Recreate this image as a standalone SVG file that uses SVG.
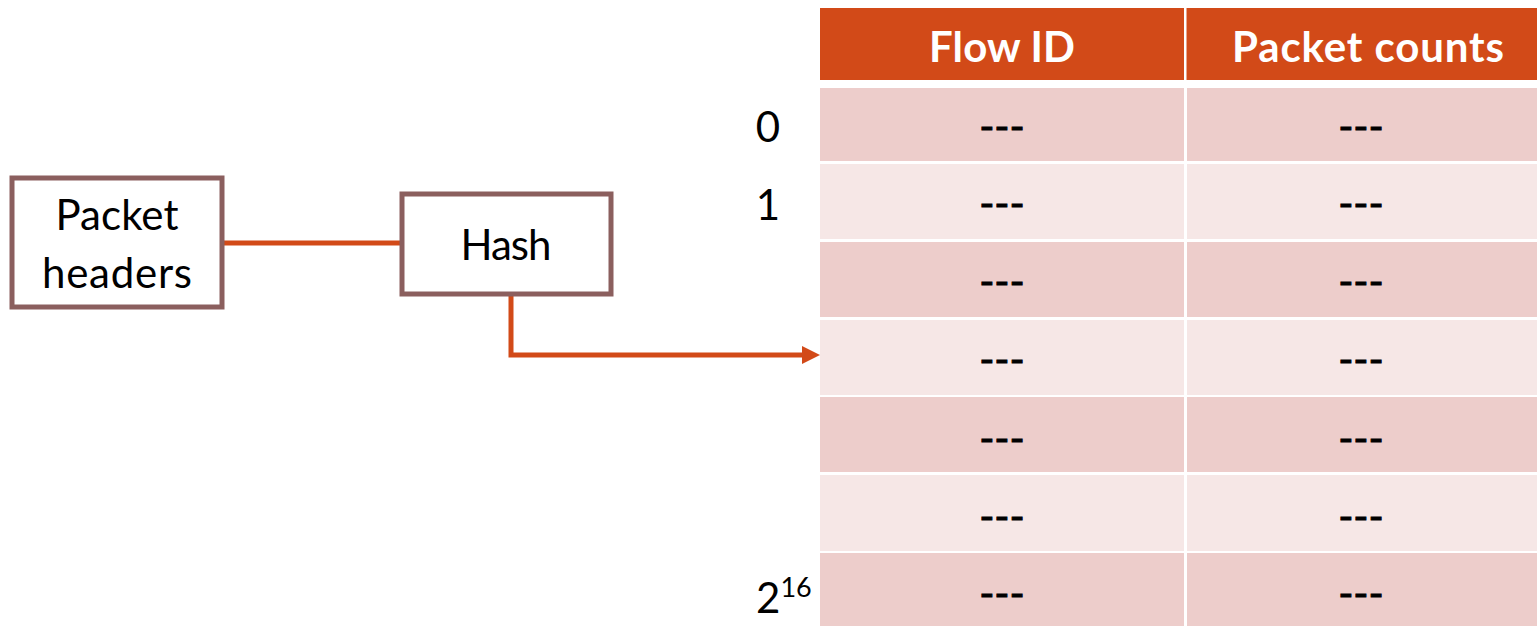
<svg xmlns="http://www.w3.org/2000/svg" width="1537" height="626" viewBox="0 0 1537 626">
  <style>
    .box { fill: #ffffff; stroke: #8B5F5E; stroke-width: 5; }
    .label { font-family: Lato, "Liberation Sans", sans-serif; font-size: 42px; fill: #000000; text-anchor: middle; }
    .head { font-family: Lato, "Liberation Sans", sans-serif; font-size: 42px; font-weight: bold; fill: #ffffff; text-anchor: middle; }
    .dash { font-family: Lato, "Liberation Sans", sans-serif; font-size: 41px; fill: #000000; stroke: #000000; stroke-width: 0.9; text-anchor: middle; }
    .idx { font-family: Lato, "Liberation Sans", sans-serif; font-size: 42px; fill: #000000; }
    .dark { fill: #EDCDCB; }
    .light { fill: #F6E7E6; }
    .wire { fill: none; stroke: #D24A18; stroke-width: 5; }
  </style>
  <defs>
    <marker id="arrow" markerUnits="userSpaceOnUse" markerWidth="18" markerHeight="18" refX="0" refY="9" orient="auto">
      <path d="M0,0 L18,9 L0,18 Z" fill="#D24A18"/>
    </marker>
  </defs>

  <rect width="1537" height="626" fill="#ffffff"/>

  <!-- connectors -->
  <g id="connectors">
    <path class="wire" d="M224 243 H400"/>
    <path class="wire" d="M511 296 V355 H802" marker-end="url(#arrow)"/>
  </g>

  <!-- input node -->
  <g id="node-packet-headers">
    <rect class="box" x="12" y="178" width="210" height="129"/>
    <text class="label" x="117" y="230" textLength="123">Packet</text>
    <text class="label" x="117" y="288" textLength="150">headers</text>
  </g>

  <!-- hash node -->
  <g id="node-hash">
    <rect class="box" x="402" y="194" width="209" height="100"/>
    <text class="label" x="506" y="260" textLength="91">Hash</text>
  </g>

  <!-- hash table -->
  <g id="node-table">
    <rect x="820" y="8" width="717" height="72" fill="#D24A18"/>
    <rect x="1184" y="8" width="2.5" height="72" fill="#ffffff"/>
    <text class="head" x="1002" y="62" textLength="146">Flow ID</text>
    <text class="head" x="1368" y="62" textLength="272">Packet counts</text>

    <rect class="dark"  x="820"  y="88"  width="364" height="73"/>
    <rect class="dark"  x="1187" y="88"  width="350" height="73"/>
    <rect class="light" x="820"  y="164" width="364" height="75"/>
    <rect class="light" x="1187" y="164" width="350" height="75"/>
    <rect class="dark"  x="820"  y="242" width="364" height="75"/>
    <rect class="dark"  x="1187" y="242" width="350" height="75"/>
    <rect class="light" x="820"  y="320" width="364" height="75"/>
    <rect class="light" x="1187" y="320" width="350" height="75"/>
    <rect class="dark"  x="820"  y="397" width="364" height="75"/>
    <rect class="dark"  x="1187" y="397" width="350" height="75"/>
    <rect class="light" x="820"  y="475" width="364" height="76"/>
    <rect class="light" x="1187" y="475" width="350" height="76"/>
    <rect class="dark"  x="820"  y="553" width="364" height="73"/>
    <rect class="dark"  x="1187" y="553" width="350" height="73"/>

    <text class="dash" x="1002" y="141">---</text>
    <text class="dash" x="1361" y="141">---</text>
    <text class="dash" x="1002" y="218">---</text>
    <text class="dash" x="1361" y="218">---</text>
    <text class="dash" x="1002" y="296">---</text>
    <text class="dash" x="1361" y="296">---</text>
    <text class="dash" x="1002" y="374">---</text>
    <text class="dash" x="1361" y="374">---</text>
    <text class="dash" x="1002" y="453">---</text>
    <text class="dash" x="1361" y="453">---</text>
    <text class="dash" x="1002" y="531">---</text>
    <text class="dash" x="1361" y="531">---</text>
    <text class="dash" x="1002" y="608">---</text>
    <text class="dash" x="1361" y="608">---</text>
  </g>

  <!-- row indices -->
  <g id="row-indices">
    <text class="idx" x="768" y="142" text-anchor="middle">0</text>
    <text class="idx" x="768" y="220" text-anchor="middle">1</text>
    <text class="idx" x="756" y="613">2<tspan font-size="27" dy="-16">16</tspan></text>
  </g>
</svg>
